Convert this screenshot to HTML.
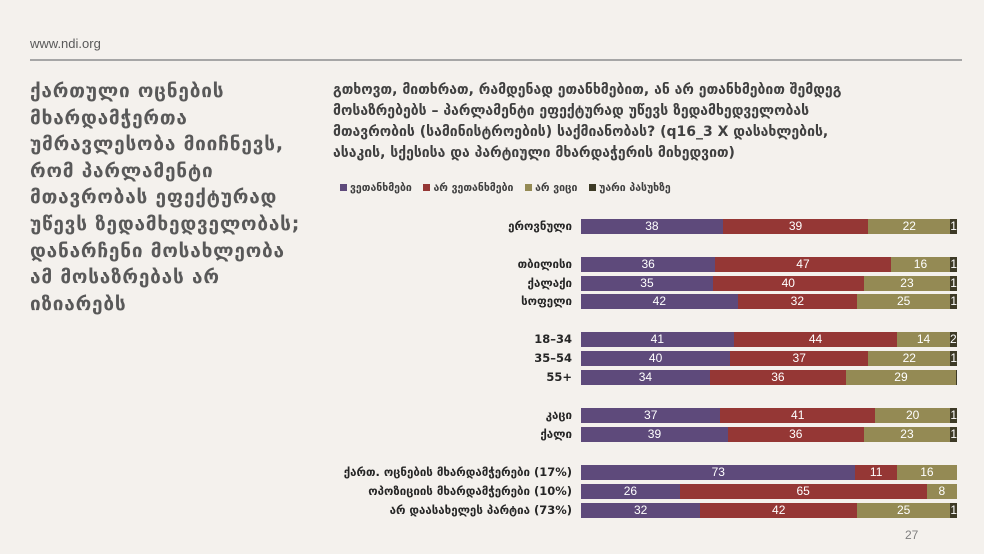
<!DOCTYPE html>
<html><head><meta charset="utf-8"><style>
body{margin:0;width:984px;height:554px;background:#f4f1ed;position:relative;overflow:hidden;font-family:"DejaVu Sans","Liberation Sans",sans-serif;}
.a{position:absolute;}
.url{left:30px;top:36px;font:13px "Liberation Sans",sans-serif;color:#595959;}
.hr{left:30px;top:59px;width:932px;height:2px;background:#a6a6a6;}
.title{left:30px;top:78px;font-weight:bold;font-size:19px;letter-spacing:0.8px;line-height:26.6px;color:#595959;white-space:nowrap;}
.q{left:333px;top:80px;font-weight:bold;font-size:14px;line-height:21px;color:#404040;white-space:nowrap;}
.leg{left:340px;top:182px;font-size:10.5px;font-weight:bold;color:#404040;white-space:nowrap;}
.leg i{display:inline-block;width:7px;height:7px;margin:0 3px 0 8px;}
.row{position:absolute;left:581px;width:376px;height:15px;display:flex;}
.row div{height:15px;color:#fff;font:12px "Liberation Sans",sans-serif;line-height:15px;text-align:center;overflow:visible;white-space:nowrap;}
.p{background:#5e4a7b}.r{background:#953735}.o{background:#948a54}.d{background:#3d3a26;}
.lab{position:absolute;right:412px;font-size:11.5px;font-weight:bold;color:#262626;white-space:nowrap;height:15px;line-height:15px;}
.pg{left:905px;top:528px;font:12px "Liberation Sans",sans-serif;color:#7f7f7f;}
</style></head><body>
<div class="a url">www.ndi.org</div>
<div class="a hr"></div>
<div class="a title">ქართული ოცნების<br>მხარდამჭერთა<br>უმრავლესობა მიიჩნევს,<br>რომ პარლამენტი<br>მთავრობას ეფექტურად<br>უწევს ზედამხედველობას;<br>დანარჩენი მოსახლეობა<br>ამ მოსაზრებას არ<br>იზიარებს</div>
<div class="a q">გთხოვთ, მითხრათ, რამდენად ეთანხმებით, ან არ ეთანხმებით შემდეგ<br>მოსაზრებებს – პარლამენტი ეფექტურად უწევს ზედამხედველობას<br>მთავრობის (სამინისტროების) საქმიანობას? (q16_3 X დასახლების,<br>ასაკის, სქესისა და პარტიული მხარდაჭერის მიხედვით)</div>
<div class="a leg"><i class="p" style="margin-left:0"></i>ვეთანხმები <i class="r"></i>არ ვეთანხმები <i class="o"></i>არ ვიცი <i class="d"></i>უარი პასუხზე</div>

<div class="lab" style="top:219px">ეროვნული</div>
<div class="row" style="top:219px"><div class="p" style="flex:38">38</div><div class="r" style="flex:39">39</div><div class="o" style="flex:22">22</div><div class="d" style="flex:1">1</div></div>

<div class="lab" style="top:257px">თბილისი</div>
<div class="row" style="top:257px"><div class="p" style="flex:36">36</div><div class="r" style="flex:47">47</div><div class="o" style="flex:16">16</div><div class="d" style="flex:1">1</div></div>
<div class="lab" style="top:276px">ქალაქი</div>
<div class="row" style="top:276px"><div class="p" style="flex:35">35</div><div class="r" style="flex:40">40</div><div class="o" style="flex:23">23</div><div class="d" style="flex:1">1</div></div>
<div class="lab" style="top:294px">სოფელი</div>
<div class="row" style="top:294px"><div class="p" style="flex:42">42</div><div class="r" style="flex:32">32</div><div class="o" style="flex:25">25</div><div class="d" style="flex:1">1</div></div>

<div class="lab" style="top:332px">18–34</div>
<div class="row" style="top:332px"><div class="p" style="flex:41">41</div><div class="r" style="flex:44">44</div><div class="o" style="flex:14">14</div><div class="d" style="flex:2">2</div></div>
<div class="lab" style="top:351px">35–54</div>
<div class="row" style="top:351px"><div class="p" style="flex:40">40</div><div class="r" style="flex:37">37</div><div class="o" style="flex:22">22</div><div class="d" style="flex:1">1</div></div>
<div class="lab" style="top:370px">55+</div>
<div class="row" style="top:370px"><div class="p" style="flex:34">34</div><div class="r" style="flex:36">36</div><div class="o" style="flex:29">29</div><div class="d" style="flex:0.3"></div></div>

<div class="lab" style="top:408px">კაცი</div>
<div class="row" style="top:408px"><div class="p" style="flex:37">37</div><div class="r" style="flex:41">41</div><div class="o" style="flex:20">20</div><div class="d" style="flex:1">1</div></div>
<div class="lab" style="top:427px">ქალი</div>
<div class="row" style="top:427px"><div class="p" style="flex:39">39</div><div class="r" style="flex:36">36</div><div class="o" style="flex:23">23</div><div class="d" style="flex:1">1</div></div>

<div class="lab" style="top:465px">ქართ. ოცნების მხარდამჭერები (17%)</div>
<div class="row" style="top:465px"><div class="p" style="flex:73">73</div><div class="r" style="flex:11">11</div><div class="o" style="flex:16">16</div></div>
<div class="lab" style="top:484px">ოპოზიციის მხარდამჭერები (10%)</div>
<div class="row" style="top:484px"><div class="p" style="flex:26">26</div><div class="r" style="flex:65">65</div><div class="o" style="flex:8">8</div></div>
<div class="lab" style="top:503px">არ დაასახელეს პარტია (73%)</div>
<div class="row" style="top:503px"><div class="p" style="flex:32">32</div><div class="r" style="flex:42">42</div><div class="o" style="flex:25">25</div><div class="d" style="flex:1">1</div></div>

<div class="a pg">27</div>
</body></html>
